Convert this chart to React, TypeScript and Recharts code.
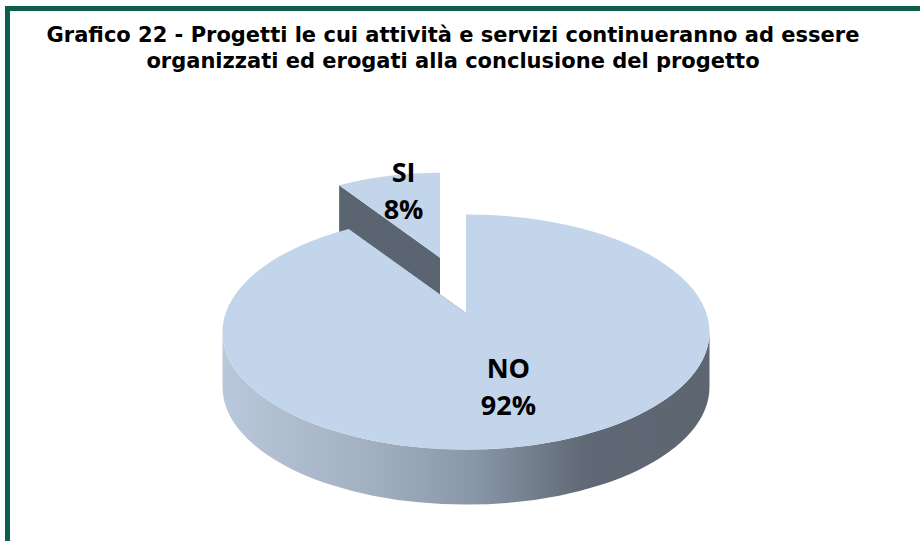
import React from "react"
import { PieChart, Pie } from "recharts"

// values
const categories: string[] = ["SI", "NO"]
const shares: number[] = [8, 92]

const data = categories.map((name, i) => ({ name, value: shares[i] }))

const title1 = "Grafico 22 - Progetti le cui attività e servizi continueranno ad essere"
const title2 = "organizzati ed erogati alla conclusione del progetto"

const TOP = "#c3d5ea"
const WALL = "#5b6571"
const SQUASH = 0.483
const DEPTH = 55
const LIFT = 19 // perspective: pie centre sits above the ellipse centre
// exploded slice: shift and perspective shrink
const EXPLODE: any = { SI: { x: -26, y: -58, s: 0.86 } }
const NONE = { x: 0, y: 0, s: 1 }

const rad = (d: number) => (d * Math.PI) / 180

function Slice3D(props: any) {
  const { cx, cy, outerRadius, startAngle, endAngle } = props
  const name = props.payload?.name ?? props.name
  const off = EXPLODE[name] || NONE
  const ex = cx + off.x
  const ey = cy + off.y
  const rx = outerRadius * off.s
  const ry = outerRadius * SQUASH * off.s
  const dep = DEPTH * off.s
  const ax = ex
  const ay = ey - LIFT * off.s
  const pt = (a: number) => [ex + rx * Math.cos(rad(a)), ey - ry * Math.sin(rad(a))]
  const a0 = Math.min(startAngle, endAngle)
  const a1 = Math.max(startAngle, endAngle)
  const large = a1 - a0 > 180 ? 1 : 0
  const p0 = pt(a0)
  const p1 = pt(a1)
  const top = `M${ax},${ay} L${p0[0]},${p0[1]} A${rx},${ry} 0 ${large} 0 ${p1[0]},${p1[1]} Z`

  const wall = (a: number) => {
    const p = pt(a)
    return `M${ax},${ay} L${p[0]},${p[1]} L${p[0]},${p[1] + dep} L${ax},${ay + dep} Z`
  }

  const fronts: string[] = []
  for (let k = -1; k <= 2; k++) {
    const s = Math.max(a0, 180 + 360 * k)
    const e = Math.min(a1, 360 + 360 * k)
    if (e > s) {
      const ps = pt(s)
      const pe = pt(e)
      fronts.push(
        `M${ps[0]},${ps[1]} A${rx},${ry} 0 0 0 ${pe[0]},${pe[1]} L${pe[0]},${pe[1] + dep} A${rx},${ry} 0 0 1 ${ps[0]},${ps[1] + dep} Z`
      )
    }
  }

  return (
    <g>
      <defs>
        <linearGradient id="sideGrad" gradientUnits="userSpaceOnUse" x1={cx - outerRadius} y1={0} x2={cx + outerRadius} y2={0}>
          <stop offset="0%" stopColor="#b9c8da" />
          <stop offset="30%" stopColor="#a2b0c0" />
          <stop offset="52%" stopColor="#8896a6" />
          <stop offset="75%" stopColor="#5f6874" />
          <stop offset="100%" stopColor="#5c6570" />
        </linearGradient>
      </defs>
      <path d={wall(a0)} fill={WALL} />
      <path d={wall(a1)} fill={WALL} />
      {fronts.map((d, i) => (
        <path key={i} d={d} fill="url(#sideGrad)" />
      ))}
      <path d={top} fill={TOP} />
    </g>
  )
}

function SliceLabel(props: any) {
  const { cx, cy, outerRadius, midAngle, percent } = props
  const name = props.payload?.name ?? props.name
  const off = EXPLODE[name] || NONE
  const rx = outerRadius * off.s
  const ry = outerRadius * SQUASH * off.s
  const x = cx + off.x + 0.7 * rx * Math.cos(rad(midAngle))
  const y = cy + off.y - 0.65 * ry * Math.sin(rad(midAngle))
  return (
    <text x={x} y={y} textAnchor="middle" fill="#000" fontFamily="'Open Sans', sans-serif" fontWeight="bold" fontSize={27}>
      <tspan x={x} y={y - 28.5}>{name}</tspan>
      <tspan x={x} y={y + 8.5}>{`${Math.round(percent * 100)}%`}</tspan>
    </text>
  )
}

export default function App() {
  return (
    <div style={{ position: "absolute", left: 0, top: 0, width: 920, height: 541, background: "#fff", overflow: "hidden" }}>
      <div
        style={{
          position: "absolute",
          left: 5,
          top: 6,
          width: 915,
          height: 535,
          borderLeft: "5px solid #0e5e4c",
          borderTop: "5px solid #0e5e4c",
        }}
      />
      <div
        style={{
          position: "absolute",
          left: 0,
          top: 22,
          width: 906,
          textAlign: "center",
          fontFamily: "'DejaVu Sans', Verdana, sans-serif",
          fontWeight: "bold",
          fontSize: 21,
          lineHeight: "26px",
          color: "#000",
        }}
      >
        <div>{title1}</div>
        <div>{title2}</div>
      </div>
      <div style={{ position: "absolute", left: 0, top: 0 }}>
        <PieChart width={920} height={541} margin={{ top: 0, right: 0, bottom: 0, left: 0 }}>
          <Pie
            data={data}
            dataKey="value"
            nameKey="name"
            cx={466}
            cy={332}
            outerRadius={243.5}
            startAngle={90}
            endAngle={450}
            stroke="none"
            isAnimationActive={false}
            shape={Slice3D}
            activeShape={Slice3D}
            inactiveShape={Slice3D}
            label={SliceLabel}
            labelLine={false}
          />
        </PieChart>
      </div>
    </div>
  )
}
